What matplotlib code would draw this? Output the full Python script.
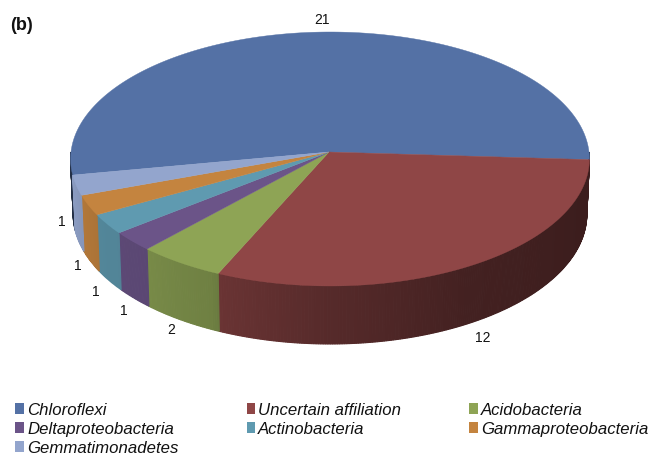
import numpy as np
import matplotlib
matplotlib.use('Agg')
import matplotlib.pyplot as plt
from matplotlib.colors import to_rgb
from matplotlib.patches import Patch

names = ['Chloroflexi', 'Uncertain affiliation', 'Acidobacteria', 'Deltaproteobacteria',
         'Actinobacteria', 'Gammaproteobacteria', 'Gemmatimonadetes']
counts = [21, 12, 2, 1, 1, 1, 1]
colors = ['#5471a5', '#8f4646', '#8ea455', '#6b5488', '#5f9ab0', '#c4843f', '#93a5cd']

# pixel offset of each count label from the foot of its slice
label_offsets = [(7, -13), (13, 14), (-11, 9), (-10, 12), (-14, 10), (-13, 4), (-17, -20)]

W, H = 653, 456
CX, CY = 330, 153      # where the slices meet
RX, RY = 259, 126.6    # size of the disc
TILT = 0.055           # perspective, the near edge comes out larger
START = 190.4

# side wall brightness against angle on the front half
shade_at = [-190, -170, -150, -135, -116, -114, -90, -60, -20, 0]
shade_val = [0.80, 0.94, 0.87, 0.85, 0.78, 0.74, 0.60, 0.47, 0.42, 0.42]


def top_point(deg):
    t = np.radians(deg)
    x, y = np.cos(t), np.sin(t)
    d = 1 + TILT * y
    return CX + RX * x / d, CY - RY * y / d


def foot_point(deg):
    # lower rim of the wall, a bit narrower than the top
    px, py = top_point(deg)
    return CX + (px - CX) * 0.99, py + 55 - 3 * np.sin(np.radians(deg))


def wall(ax, a0, a1, color):
    # a0 > a1, running clockwise; only the front part (sin < 0) shows
    base = np.array(to_rgb(color))
    edges = np.arange(a0, a1 - 0.5, -0.5)
    edges = np.append(edges[edges > a1], a1)
    for t0, t1 in zip(edges[:-1], edges[1:]):
        mid = (t0 + t1) / 2
        if np.sin(np.radians(mid)) >= 0:
            continue
        xt, yt = top_point(np.array([t0, t1]))
        xb, yb = foot_point(np.array([t0, t1]))
        c = base * np.interp(mid, shade_at, shade_val)
        ax.fill([xt[0], xt[1], xb[1], xb[0]], [yt[0], yt[1], yb[1], yb[0]],
                color=c, lw=0.8, zorder=1)


fig = plt.figure(figsize=(W / 100, H / 100), dpi=100)
plt.rcParams['font.family'] = ['Liberation Sans', 'DejaVu Sans']
ax = fig.add_axes([0, 0, 1, 1])
ax.set_xlim(0, W)
ax.set_ylim(H, 0)
ax.set_axis_off()

# angles of the slices, clockwise from START
sweep = np.array(counts) / sum(counts) * 360
stops = START - np.cumsum(sweep)
starts = np.concatenate([[START], stops[:-1]])

for a0, a1, c in zip(starts, stops, colors):
    if a0 > 180 and a1 < 0:
        # first slice wraps over the back, so only its two ends are walled
        wall(ax, a0, 180, c)
        wall(ax, 0, a1, c)
    else:
        wall(ax, a0, a1, c)
    rim = np.linspace(a0, a1, 200)
    px, py = top_point(rim)
    ax.fill(np.r_[CX - 1, px], np.r_[CY, py], color=c, lw=0.3, zorder=2)

for a0, a1, n, off in zip(starts, stops, counts, label_offsets):
    mid = (a0 + a1) / 2
    lx, ly = top_point(mid) if np.sin(np.radians(mid)) > 0 else foot_point(mid)
    ax.text(lx + off[0], ly + off[1], str(n), ha='center', va='center',
            fontsize=10, color='#111111')

ax.text(10, 25, '(b)', fontsize=13, fontweight='bold', va='center', color='#111111')

# legend fills column by column, the reference reads row by row
order = [0, 3, 6, 1, 4, 2, 5]
handles = [Patch(facecolor=colors[i], edgecolor='none') for i in order]
ax.legend(handles, [names[i] for i in order], ncol=3, loc='upper left',
          bbox_to_anchor=(12 / W, 1 - 400 / H), frameon=False,
          prop={'style': 'italic', 'size': 12.1}, handlelength=0.5, handleheight=0.6,
          handletextpad=0.2, columnspacing=4.05, labelspacing=0.24, borderpad=0.2,
          borderaxespad=0, labelcolor='#111111')

fig.savefig('out.png', dpi=100)
plt.close()
